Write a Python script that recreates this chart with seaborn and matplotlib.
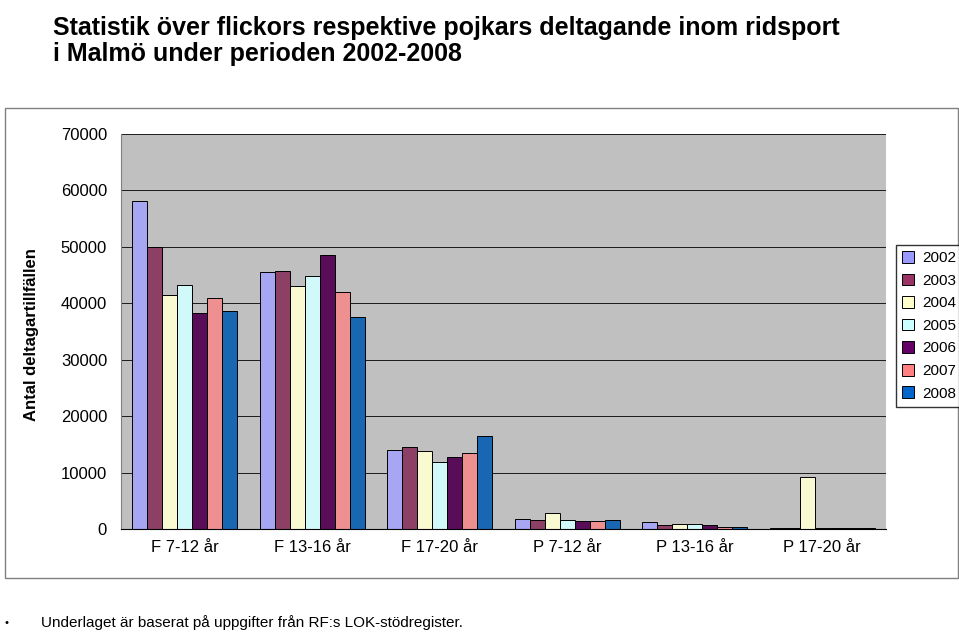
import pandas as pd
import seaborn as sb
import matplotlib.pyplot as plt
from matplotlib.patches import Rectangle

plt.rcParams["font.family"] = "Liberation Sans"

groups = ["F 7-12 år", "F 13-16 år", "F 17-20 år", "P 7-12 år", "P 13-16 år", "P 17-20 år"]
years = ["2002", "2003", "2004", "2005", "2006", "2007", "2008"]
values = {
    "2002": [58100, 45600, 14000, 1800, 1200, 200],
    "2003": [50000, 45700, 14500, 1600, 700, 200],
    "2004": [41500, 43100, 13800, 2800, 900, 9200],
    "2005": [43300, 44900, 11900, 1600, 900, 100],
    "2006": [38300, 48600, 12800, 1400, 700, 100],
    "2007": [41000, 42000, 13500, 1400, 400, 100],
    "2008": [38700, 37600, 16500, 1600, 400, 100],
}
colors = ["#9999FF", "#993366", "#FFFFCC", "#CCFFFF", "#660066", "#FF8080", "#0066CC"]

rows = []
for y in years:
    for g, v in zip(groups, values[y]):
        rows.append({"grupp": g, "år": y, "antal": v})
df = pd.DataFrame(rows)

fig = plt.figure(figsize=(9.59, 6.32), dpi=100)
# outer chart frame, behind the axes
frame = Rectangle((5/959, 1-578/632), 953/959, 470/632, transform=fig.transFigure,
                  facecolor="white", edgecolor="#808080", linewidth=1, zorder=-10)
fig.patches.append(frame)
ax = fig.add_axes([121/959, 1-529/632, 765/959, 395/632])
ax.set_facecolor("#C0C0C0")
sb.barplot(data=df, x="grupp", y="antal", hue="år", palette=colors, width=0.82,
           edgecolor="black", linewidth=0.7, ax=ax, legend=False)
ax.set_ylim(0, 70000)
ax.set_yticks(range(0, 70001, 10000))
ax.set_yticklabels([str(v) for v in range(0, 70001, 10000)], fontsize=12)
ax.yaxis.grid(True, color="black", linewidth=0.6)
ax.set_axisbelow(True)
ax.tick_params(axis="y", length=0, pad=10)
ax.tick_params(axis="x", length=0, labelsize=12, pad=8)
for s in ["top", "right"]:
    ax.spines[s].set_visible(False)
ax.spines["left"].set_color("#808080")
ax.set_xlabel("")
ax.set_ylabel("")
fig.text(0.033, 1-335/632, "Antal deltagartillfällen", rotation=90, ha="center", va="center",
         fontsize=12, fontweight="bold")

handles = [Rectangle((0, 0), 1, 1, facecolor=c, edgecolor="black", linewidth=0.7) for c in colors]
fig.legend(handles, years, loc="upper left", bbox_to_anchor=(896/959, 1-245/632),
           fontsize=11, frameon=True, fancybox=False, edgecolor="black",
           handlelength=0.8, handleheight=0.8, labelspacing=0.55, borderpad=0.4,
           handletextpad=0.5, borderaxespad=0)

fig.text(0.055, 0.975, "Statistik över flickors respektive pojkars deltagande inom ridsport\ni Malmö under perioden 2002-2008",
         ha="left", va="top", fontsize=18, fontweight="bold", linespacing=1.1)
fig.text(0.005, 0.01, "•", fontsize=8)
fig.text(0.043, 0.008, "Underlaget är baserat på uppgifter från RF:s LOK-stödregister.", fontsize=11)

fig.savefig("out.png", dpi=100)
